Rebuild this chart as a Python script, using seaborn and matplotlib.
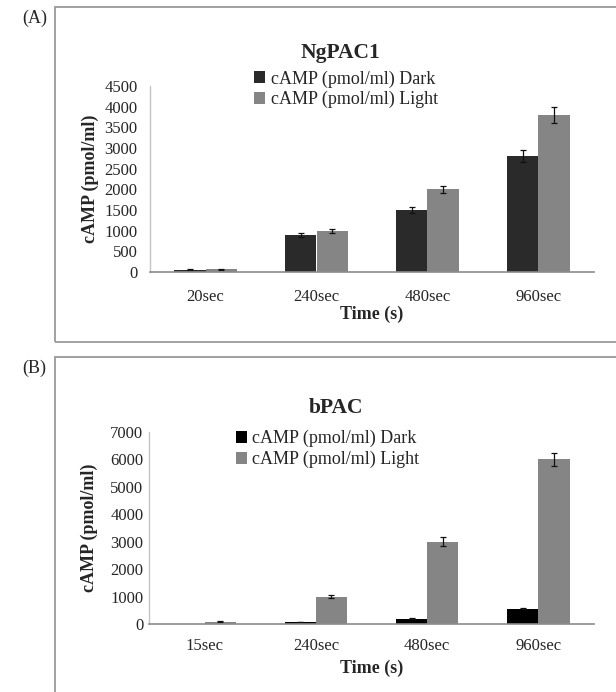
import numpy as np
import pandas as pd
import matplotlib.pyplot as plt
import seaborn as sns
from matplotlib.patches import Rectangle

# --- data ---
times_a = ['20sec', '240sec', '480sec', '960sec']
dark_a = [55, 900, 1500, 2800]
light_a = [65, 1000, 2000, 3800]
dark_a_err = [15, 50, 65, 150]
light_a_err = [15, 50, 90, 200]

times_b = ['15sec', '240sec', '480sec', '960sec']
dark_b = [0, 80, 200, 560]
light_b = [90, 1000, 3000, 6000]
dark_b_err = [0, 10, 20, 30]
light_b_err = [15, 50, 170, 250]

series_names = ['cAMP (pmol/ml) Dark', 'cAMP (pmol/ml) Light']

sns.set_style('white')
plt.rcParams['font.family'] = ['Liberation Serif', 'DejaVu Serif']

fig = plt.figure(figsize=(6.16, 6.92), dpi=100)

# panel frames
fig.add_artist(Rectangle((55 / 616, 1 - 342 / 692), 1.0, (342 - 7) / 692,
                         transform=fig.transFigure, fill=False,
                         edgecolor='#9a9a9a', linewidth=1.3))
fig.add_artist(Rectangle((55 / 616, -0.05), 1.0, 0.05 + (692 - 357) / 692,
                         transform=fig.transFigure, fill=False,
                         edgecolor='#9a9a9a', linewidth=1.3))
fig.text(22 / 616, 1 - 18 / 692, '(A)', fontsize=13, ha='left', va='center')
fig.text(22 / 616, 1 - 368 / 692, '(B)', fontsize=13, ha='left', va='center')


def long_table(times, dark, light):
    return pd.DataFrame({
        'time': times * 2,
        'series': [series_names[0]] * len(times) + [series_names[1]] * len(times),
        'value': dark + light,
    })


def draw_panel(ax, times, dark, light, errs, colors, title, ymax, ystep,
               title_xy, leg_xy, ypad, xpad, xticks_marks, xlabel_y):
    df = long_table(times, dark, light)
    sns.barplot(data=df, x='time', y='value', hue='series', order=times,
                hue_order=series_names, palette=colors, errorbar=None,
                width=0.56, linewidth=0, ax=ax)
    for cont, err in zip(ax.containers, errs):
        xs, hs, es = [], [], []
        for p, e in zip(cont.patches, err):
            if e > 0:
                xs.append(p.get_x() + p.get_width() / 2)
                hs.append(p.get_height())
                es.append(e)
        ax.errorbar(xs, hs, yerr=es, fmt='none', ecolor='#111111',
                    elinewidth=0.9, capsize=2.5, capthick=0.9)

    ax.set_ylim(0, ymax)
    ax.set_xlim(-0.5, len(times) - 0.5)
    ax.set_yticks(np.arange(0, ymax + 1, ystep))
    ax.tick_params(axis='y', length=0, pad=ypad, labelsize=12)
    if xticks_marks:
        ax.set_xticks(np.arange(len(times)))
        ax.set_xticks(np.arange(-0.5, len(times)), minor=True)
        ax.tick_params(axis='x', which='major', length=0, pad=xpad, labelsize=12)
        ax.tick_params(axis='x', which='minor', length=4, width=0.9,
                       color='#8c8c8c', direction='out')
    else:
        ax.tick_params(axis='x', length=0, pad=xpad, labelsize=12)

    for side in ['top', 'right']:
        ax.spines[side].set_visible(False)
    ax.spines['left'].set_color('#c4c4c4')
    ax.spines['bottom'].set_color('#8c8c8c')
    ax.spines['left'].set_linewidth(1.0)
    ax.spines['bottom'].set_linewidth(1.2)

    ax.set_ylabel('cAMP (pmol/ml)', fontsize=13, fontweight='bold', va='center')
    ax.yaxis.set_label_coords(-0.135, 0.5)
    ax.set_xlabel('Time (s)', fontsize=13, fontweight='bold', va='center')
    ax.xaxis.set_label_coords(0.5, xlabel_y)

    ax.text(title_xy[0], title_xy[1], title, transform=ax.transAxes,
            ha='center', va='center', fontsize=15.5, fontweight='bold')

    ax.legend(loc='upper left', bbox_to_anchor=leg_xy, frameon=False,
              fontsize=13, handlelength=0.6, handleheight=0.6,
              handletextpad=0.3, labelspacing=0.2, borderpad=0,
              borderaxespad=0)


ax_a = fig.add_axes([150 / 616, 1 - 272 / 692, 444 / 616, 186 / 692])
draw_panel(ax_a, times_a, dark_a, light_a, [dark_a_err, light_a_err],
           ['#2a2a2a', '#858585'], 'NgPAC1', 4500, 500,
           title_xy=(0.428, 1.177), leg_xy=(0.235, 1.085),
           ypad=9, xpad=12, xticks_marks=False, xlabel_y=-0.226)

ax_b = fig.add_axes([149 / 616, 1 - 624 / 692, 445 / 616, 192 / 692])
draw_panel(ax_b, times_b, dark_b, light_b, [dark_b_err, light_b_err],
           ['#000000', '#858585'], 'bPAC', 7000, 1000,
           title_xy=(0.42, 1.125), leg_xy=(0.195, 1.01),
           ypad=4, xpad=10, xticks_marks=True, xlabel_y=-0.229)

fig.savefig('out.png', dpi=100)
